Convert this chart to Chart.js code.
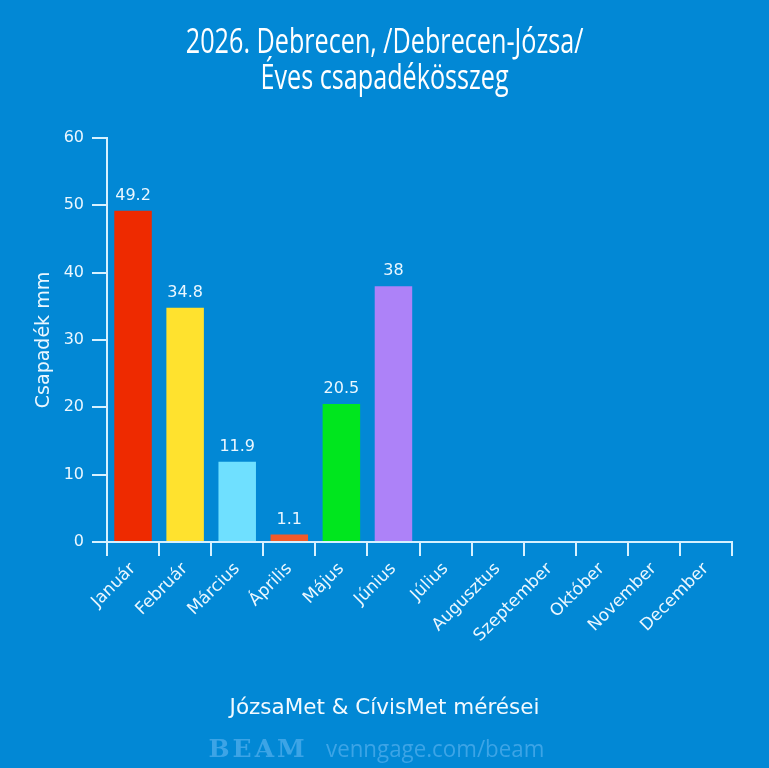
<!DOCTYPE html>
<html>
<head>
<meta charset="utf-8">
<script src="https://cdn.jsdelivr.net/npm/chart.js@4.4.1/dist/chart.umd.min.js"></script>
<style>
  html, body { margin: 0; padding: 0; background: #0288D5; }
  #wrap { position: relative; width: 769px; height: 768px; background: #0288D5; overflow: hidden; }
  #c { position: absolute; left: 0; top: 0; }
  .title { position: absolute; left: 0; width: 769px; text-align: center; color: #ffffff;
           font-family: "Open Sans", sans-serif; font-size: 34px; line-height: 36px; }
  .title span { display: inline-block; transform: scaleX(0.74); transform-origin: center; white-space: nowrap; }
  .foot { position: absolute; left: 0; width: 769px; text-align: center; color: #F2FAFF;
          font-family: "DejaVu Sans", sans-serif; font-size: 21.5px; }
  .brand { position: absolute; left: 0; width: 769px; text-align: center; color: #3CA4E6; }
  .brand .logo { font-family: "DejaVu Serif", serif; font-weight: bold; font-size: 25px; letter-spacing: 3px; margin-right: 18px; }
  .brand .url { font-family: "Open Sans", sans-serif; font-size: 24px; display: inline-block; transform: scaleX(0.93); transform-origin: left center; }
</style>
</head>
<body>
<div id="wrap">
  <canvas id="c" width="769" height="768"></canvas>
  <div class="title" style="top:22px;"><span>2026. Debrecen, /Debrecen-Józsa/</span><br><span>Éves csapadékösszeg</span></div>
  <div class="foot" style="top:694px;">JózsaMet &amp; CívisMet mérései</div>
  <div class="brand" style="top:731px;"><span class="logo">BEAM</span><span class="url">venngage.com/beam</span></div>
</div>
<script>
const categories = ["Január","Február","Március","Április","Május","Június","Július","Augusztus","Szeptember","Október","November","December"];
const values = [49.2, 34.8, 11.9, 1.1, 20.5, 38, null, null, null, null, null, null];
const barColors = ["#EE2A00","#FFE22E","#6FE0FF","#F25A2A","#00E61E","#AD82F8","#cccccc","#cccccc","#cccccc","#cccccc","#cccccc","#cccccc"];
const yTicks = [0,10,20,30,40,50,60];
const yTitle = "Csapadék mm";

const axisColor = "#D6F1FF";
const textColor = "#EAF7FF";
const font = "'DejaVu Sans', sans-serif";

const valueLabels = {
  id: "valueLabels",
  afterDatasetsDraw(chart) {
    const ctx = chart.ctx;
    const meta = chart.getDatasetMeta(0);
    ctx.save();
    ctx.fillStyle = textColor;
    ctx.font = "16px " + font;
    ctx.textAlign = "center";
    ctx.textBaseline = "alphabetic";
    meta.data.forEach((el, i) => {
      const v = values[i];
      if (v === null || v === undefined) return;
      ctx.fillText(String(v), el.x, el.y - 11);
    });
    ctx.restore();
  }
};

new Chart(document.getElementById("c"), {
  type: "bar",
  data: {
    labels: categories,
    datasets: [{
      data: values,
      backgroundColor: barColors,
      borderWidth: 0,
      barPercentage: 0.72,
      categoryPercentage: 1.0
    }]
  },
  options: {
    responsive: false,
    animation: false,
    devicePixelRatio: 1,
    layout: { padding: { top: 138, right: 37, bottom: 0, left: 0 } },
    plugins: {
      legend: { display: false },
      tooltip: { enabled: false }
    },
    scales: {
      y: {
        min: 0, max: 60,
        afterBuildTicks(scale) { scale.ticks = yTicks.map(v => ({ value: v })); },
        afterFit(scale) { scale.width = 107; },
        border: { display: true, color: axisColor, width: 2 },
        grid: { display: true, drawOnChartArea: false, drawTicks: true, tickLength: 15, color: axisColor, lineWidth: 2 },
        ticks: { color: textColor, font: { family: font, size: 16 }, padding: 8 },
        title: { display: true, text: yTitle, color: textColor, font: { family: font, size: 19 }, padding: { top: 33, bottom: 0 } }
      },
      x: {
        afterFit(scale) { scale.height = 768 - 542; },
        border: { display: true, color: axisColor, width: 2 },
        grid: { display: true, offset: true, drawOnChartArea: false, drawTicks: true, tickLength: 14, color: axisColor, lineWidth: 2 },
        ticks: { color: textColor, font: { family: font, size: 17 }, minRotation: 45, maxRotation: 45, padding: 3 }
      }
    }
  },
  plugins: [valueLabels]
});
</script>
</body>
</html>
